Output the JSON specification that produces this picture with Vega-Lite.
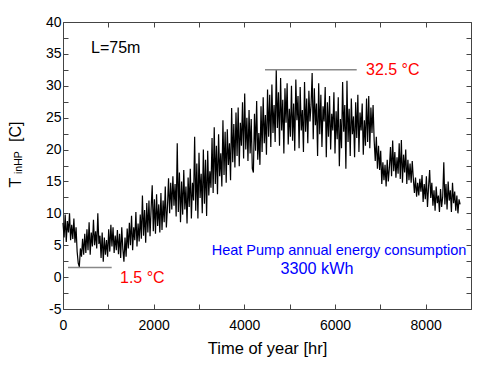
{
"$schema": "https://vega.github.io/schema/vega-lite/v6.json",
"width": 408, "height": 287,
"autosize": {"type": "none"},
"padding": {"left": 63, "top": 22, "right": 12, "bottom": 63},
"background": "white",
"config": {
  "font": "Liberation Sans",
  "view": {"stroke": "#444", "strokeWidth": 1},
  "axis": {"domain": false, "grid": false, "tickColor": "#444", "tickSize": -5, "labelFont": "Liberation Sans", "labelFontSize": 14, "labelColor": "black", "labelOverlap": false, "labelFlush": false, "titleFont": "Liberation Sans", "titleFontSize": 16.5, "titleFontWeight": "normal", "titleColor": "black"},
  "text": {"font": "Liberation Sans"}
},
"datasets": {"temp": [
{"t":0,"v":8.5},{"t":24,"v":6.2},{"t":48,"v":9.8},{"t":72,"v":5.5},{"t":96,"v":8.8},{"t":120,"v":7.0},{"t":144,"v":10.0},{"t":168,"v":5.8},{"t":192,"v":8.2},{"t":216,"v":6.0},
{"t":240,"v":9.2},{"t":264,"v":5.4},{"t":288,"v":7.8},{"t":312,"v":4.0},{"t":336,"v":2.2},{"t":360,"v":1.6},{"t":384,"v":4.5},{"t":408,"v":3.2},{"t":432,"v":6.0},{"t":456,"v":3.5},
{"t":480,"v":6.8},{"t":504,"v":3.8},{"t":528,"v":7.5},{"t":552,"v":4.2},{"t":576,"v":8.6},{"t":600,"v":3.5},{"t":624,"v":7.0},{"t":648,"v":4.8},{"t":672,"v":9.0},{"t":696,"v":5.0},
{"t":720,"v":7.2},{"t":744,"v":4.5},{"t":768,"v":10.0},{"t":792,"v":5.2},{"t":816,"v":6.5},{"t":840,"v":3.0},{"t":864,"v":7.0},{"t":888,"v":2.4},{"t":912,"v":6.2},{"t":936,"v":3.5},
{"t":960,"v":5.8},{"t":984,"v":3.2},{"t":1008,"v":7.5},{"t":1032,"v":4.0},{"t":1056,"v":8.2},{"t":1080,"v":4.8},{"t":1104,"v":7.8},{"t":1128,"v":3.8},{"t":1152,"v":6.5},{"t":1176,"v":4.2},
{"t":1200,"v":7.4},{"t":1224,"v":3.6},{"t":1248,"v":6.8},{"t":1272,"v":3.0},{"t":1296,"v":7.8},{"t":1320,"v":4.4},{"t":1344,"v":2.4},{"t":1368,"v":6.2},{"t":1392,"v":3.2},{"t":1416,"v":7.6},
{"t":1440,"v":4.5},{"t":1464,"v":8.5},{"t":1488,"v":5.0},{"t":1512,"v":9.6},{"t":1536,"v":4.2},{"t":1560,"v":7.8},{"t":1584,"v":5.8},{"t":1608,"v":10.2},{"t":1632,"v":4.8},{"t":1656,"v":8.4},
{"t":1680,"v":5.6},{"t":1704,"v":9.8},{"t":1728,"v":6.0},{"t":1752,"v":12.8},{"t":1776,"v":6.5},{"t":1800,"v":10.5},{"t":1824,"v":5.4},{"t":1848,"v":11.6},{"t":1872,"v":7.0},{"t":1896,"v":12.0},
{"t":1920,"v":6.4},{"t":1944,"v":10.8},{"t":1968,"v":14.4},{"t":1992,"v":7.2},{"t":2016,"v":12.2},{"t":2040,"v":6.8},{"t":2064,"v":13.0},{"t":2088,"v":8.0},{"t":2112,"v":11.4},{"t":2136,"v":7.0},
{"t":2160,"v":13.2},{"t":2184,"v":7.4},{"t":2208,"v":12.0},{"t":2232,"v":8.6},{"t":2256,"v":14.2},{"t":2280,"v":7.8},{"t":2304,"v":11.0},{"t":2328,"v":15.5},{"t":2352,"v":10.0},{"t":2376,"v":14.8},
{"t":2400,"v":10.6},{"t":2424,"v":15.8},{"t":2448,"v":11.2},{"t":2472,"v":14.6},{"t":2496,"v":9.5},{"t":2520,"v":21.0},{"t":2544,"v":10.2},{"t":2568,"v":16.4},{"t":2592,"v":8.6},{"t":2616,"v":15.0},
{"t":2640,"v":9.8},{"t":2664,"v":16.8},{"t":2688,"v":10.6},{"t":2712,"v":14.2},{"t":2736,"v":8.4},{"t":2760,"v":15.6},{"t":2784,"v":11.0},{"t":2808,"v":17.0},{"t":2832,"v":9.2},{"t":2856,"v":14.8},
{"t":2880,"v":12.0},{"t":2904,"v":22.0},{"t":2928,"v":10.4},{"t":2952,"v":17.8},{"t":2976,"v":9.2},{"t":3000,"v":19.5},{"t":3024,"v":12.4},{"t":3048,"v":16.2},{"t":3072,"v":10.0},{"t":3096,"v":20.0},
{"t":3120,"v":11.5},{"t":3144,"v":18.4},{"t":3168,"v":9.6},{"t":3192,"v":19.8},{"t":3216,"v":12.8},{"t":3240,"v":16.6},{"t":3264,"v":14.0},{"t":3288,"v":21.8},{"t":3312,"v":13.2},{"t":3336,"v":23.5},
{"t":3360,"v":14.6},{"t":3384,"v":20.6},{"t":3408,"v":13.0},{"t":3432,"v":22.4},{"t":3456,"v":15.8},{"t":3480,"v":19.4},{"t":3504,"v":14.2},{"t":3528,"v":24.6},{"t":3552,"v":16.0},{"t":3576,"v":22.8},
{"t":3600,"v":14.8},{"t":3624,"v":23.2},{"t":3648,"v":17.6},{"t":3672,"v":21.0},{"t":3696,"v":15.2},{"t":3720,"v":26.5},{"t":3744,"v":18.0},{"t":3768,"v":24.0},{"t":3792,"v":17.2},{"t":3816,"v":25.8},
{"t":3840,"v":19.0},{"t":3864,"v":26.6},{"t":3888,"v":17.4},{"t":3912,"v":24.2},{"t":3936,"v":20.6},{"t":3960,"v":27.4},{"t":3984,"v":18.6},{"t":4008,"v":28.8},{"t":4032,"v":20.0},{"t":4056,"v":25.0},
{"t":4080,"v":18.2},{"t":4104,"v":26.2},{"t":4128,"v":19.4},{"t":4152,"v":24.8},{"t":4176,"v":17.0},{"t":4200,"v":16.4},{"t":4224,"v":25.6},{"t":4248,"v":19.8},{"t":4272,"v":27.6},{"t":4296,"v":18.4},
{"t":4320,"v":22.6},{"t":4344,"v":17.6},{"t":4368,"v":26.8},{"t":4392,"v":19.6},{"t":4416,"v":28.2},{"t":4440,"v":21.0},{"t":4464,"v":25.4},{"t":4488,"v":19.2},{"t":4512,"v":29.4},{"t":4536,"v":22.0},
{"t":4560,"v":28.6},{"t":4584,"v":20.4},{"t":4608,"v":30.2},{"t":4632,"v":22.6},{"t":4656,"v":27.0},{"t":4680,"v":21.2},{"t":4704,"v":32.5},{"t":4728,"v":23.4},{"t":4752,"v":29.0},{"t":4776,"v":20.6},
{"t":4800,"v":31.2},{"t":4824,"v":23.0},{"t":4848,"v":27.8},{"t":4872,"v":19.4},{"t":4896,"v":29.6},{"t":4920,"v":24.2},{"t":4944,"v":30.4},{"t":4968,"v":20.8},{"t":4992,"v":26.4},{"t":5016,"v":22.0},
{"t":5040,"v":30.0},{"t":5064,"v":21.4},{"t":5088,"v":27.2},{"t":5112,"v":19.8},{"t":5136,"v":31.0},{"t":5160,"v":24.6},{"t":5184,"v":28.4},{"t":5208,"v":20.2},{"t":5232,"v":29.8},{"t":5256,"v":23.0},
{"t":5280,"v":26.2},{"t":5304,"v":19.6},{"t":5328,"v":30.6},{"t":5352,"v":22.8},{"t":5376,"v":28.0},{"t":5400,"v":21.0},{"t":5424,"v":29.2},{"t":5448,"v":24.4},{"t":5472,"v":27.0},{"t":5496,"v":32.0},
{"t":5520,"v":21.6},{"t":5544,"v":29.6},{"t":5568,"v":23.8},{"t":5592,"v":27.2},{"t":5616,"v":19.0},{"t":5640,"v":30.4},{"t":5664,"v":22.4},{"t":5688,"v":28.6},{"t":5712,"v":20.4},{"t":5736,"v":26.8},
{"t":5760,"v":24.4},{"t":5784,"v":29.8},{"t":5808,"v":18.8},{"t":5832,"v":27.4},{"t":5856,"v":22.0},{"t":5880,"v":28.4},{"t":5904,"v":20.0},{"t":5928,"v":25.6},{"t":5952,"v":23.0},{"t":5976,"v":29.0},
{"t":6000,"v":19.4},{"t":6024,"v":26.0},{"t":6048,"v":21.6},{"t":6072,"v":28.2},{"t":6096,"v":17.4},{"t":6120,"v":24.8},{"t":6144,"v":20.2},{"t":6168,"v":30.6},{"t":6192,"v":22.8},{"t":6216,"v":27.0},
{"t":6240,"v":17.0},{"t":6264,"v":30.8},{"t":6288,"v":21.2},{"t":6312,"v":26.4},{"t":6336,"v":19.0},{"t":6360,"v":28.0},{"t":6384,"v":22.4},{"t":6408,"v":25.2},{"t":6432,"v":18.8},{"t":6456,"v":27.4},
{"t":6480,"v":21.8},{"t":6504,"v":28.6},{"t":6528,"v":19.6},{"t":6552,"v":25.8},{"t":6576,"v":23.0},{"t":6600,"v":27.2},{"t":6624,"v":19.2},{"t":6648,"v":24.6},{"t":6672,"v":20.6},{"t":6696,"v":28.0},
{"t":6720,"v":21.2},{"t":6744,"v":28.4},{"t":6768,"v":20.2},{"t":6792,"v":26.6},{"t":6816,"v":22.6},{"t":6840,"v":27.0},{"t":6864,"v":21.4},{"t":6888,"v":18.2},{"t":6912,"v":22.0},{"t":6936,"v":17.0},
{"t":6960,"v":20.6},{"t":6984,"v":16.8},{"t":7008,"v":19.8},{"t":7032,"v":14.6},{"t":7056,"v":18.0},{"t":7080,"v":15.2},{"t":7104,"v":17.6},{"t":7128,"v":14.2},{"t":7152,"v":18.4},{"t":7176,"v":15.0},
{"t":7200,"v":17.2},{"t":7224,"v":20.4},{"t":7248,"v":15.8},{"t":7272,"v":21.4},{"t":7296,"v":16.6},{"t":7320,"v":19.6},{"t":7344,"v":15.6},{"t":7368,"v":18.8},{"t":7392,"v":16.2},{"t":7416,"v":21.0},
{"t":7440,"v":15.4},{"t":7464,"v":21.5},{"t":7488,"v":14.8},{"t":7512,"v":19.2},{"t":7536,"v":16.4},{"t":7560,"v":20.0},{"t":7584,"v":14.6},{"t":7608,"v":18.4},{"t":7632,"v":15.2},{"t":7656,"v":17.8},
{"t":7680,"v":14.8},{"t":7704,"v":18.2},{"t":7728,"v":15.4},{"t":7752,"v":13.2},{"t":7776,"v":15.6},{"t":7800,"v":12.6},{"t":7824,"v":14.8},{"t":7848,"v":12.8},{"t":7872,"v":15.4},{"t":7896,"v":13.4},
{"t":7920,"v":16.0},{"t":7944,"v":11.8},{"t":7968,"v":14.6},{"t":7992,"v":12.2},{"t":8016,"v":15.8},{"t":8040,"v":11.0},{"t":8064,"v":14.2},{"t":8088,"v":16.8},{"t":8112,"v":12.4},{"t":8136,"v":14.8},
{"t":8160,"v":11.2},{"t":8184,"v":13.6},{"t":8208,"v":10.4},{"t":8232,"v":14.2},{"t":8256,"v":11.6},{"t":8280,"v":12.8},{"t":8304,"v":10.2},{"t":8328,"v":13.8},{"t":8352,"v":11.0},{"t":8376,"v":12.6},
{"t":8400,"v":18.0},{"t":8424,"v":11.4},{"t":8448,"v":14.6},{"t":8472,"v":10.6},{"t":8496,"v":15.0},{"t":8520,"v":12.0},{"t":8544,"v":13.6},{"t":8568,"v":10.2},{"t":8592,"v":14.8},{"t":8616,"v":11.6},
{"t":8640,"v":13.4},{"t":8664,"v":10.4},{"t":8688,"v":12.8},{"t":8712,"v":10.0},{"t":8736,"v":12.2},{"t":8760,"v":11.4}
]},
"resolve": {"axis": {"x": "independent", "y": "independent"}},
"layer": [
  {
    "data": {"name": "temp"},
    "mark": {"type": "line", "color": "black", "strokeWidth": 1.2},
    "encoding": {
      "x": {"field": "t", "type": "quantitative", "scale": {"domain": [0, 9000], "nice": false, "zero": false},
            "axis": {"orient": "bottom", "values": [0,1000,2000,3000,4000,5000,6000,7000,8000,9000], "labelExpr": "datum.value % 2000 == 0 && datum.value < 9000 ? '' + datum.value : ''", "labelPadding": 14, "title": "Time of year [hr]", "titlePadding": 8}},
      "y": {"field": "v", "type": "quantitative", "scale": {"domain": [-5, 40], "nice": false, "zero": false},
            "axis": {"orient": "left", "values": [-5,-2.5,0,2.5,5,7.5,10,12.5,15,17.5,20,22.5,25,27.5,30,32.5,35,37.5,40], "labelExpr": "datum.value % 5 == 0 ? '' + datum.value : ''", "labelPadding": 7, "title": null}}
    }
  },
  {
    "data": {"values": [{}]},
    "mark": {"type": "rule", "color": "#888888", "strokeWidth": 1.5},
    "encoding": {
      "x": {"datum": 4456, "type": "quantitative", "scale": {"domain": [0, 9000], "nice": false, "zero": false},
            "axis": {"orient": "top", "values": [0,1000,2000,3000,4000,5000,6000,7000,8000,9000], "labels": false, "title": null}},
      "x2": {"datum": 6479},
      "y": {"datum": 32.5, "type": "quantitative", "scale": {"domain": [-5, 40], "nice": false, "zero": false},
            "axis": {"orient": "right", "values": [-5,-2.5,0,2.5,5,7.5,10,12.5,15,17.5,20,22.5,25,27.5,30,32.5,35,37.5,40], "labels": false, "title": null}}
    }
  },
  {
    "data": {"values": [{}]},
    "mark": {"type": "rule", "color": "#888888", "strokeWidth": 1.5},
    "encoding": {
      "x": {"datum": 110, "type": "quantitative", "axis": null},
      "x2": {"datum": 1074},
      "y": {"datum": 1.5, "type": "quantitative", "axis": null}
    }
  },
  {
    "data": {"values": [{}]},
    "mark": {"type": "text", "text": "L=75m", "fontSize": 16, "color": "black", "align": "left", "baseline": "alphabetic"},
    "encoding": {"x": {"datum": 618, "type": "quantitative", "axis": null}, "y": {"datum": 35.09, "type": "quantitative", "axis": null}}
  },
  {
    "data": {"values": [{}]},
    "mark": {"type": "text", "text": "32.5 °C", "fontSize": 16, "color": "#FF0000", "align": "left", "baseline": "alphabetic"},
    "encoding": {"x": {"datum": 6684, "type": "quantitative", "axis": null}, "y": {"datum": 31.69, "type": "quantitative", "axis": null}}
  },
  {
    "data": {"values": [{}]},
    "mark": {"type": "text", "text": "1.5 °C", "fontSize": 16, "color": "#FF0000", "align": "left", "baseline": "alphabetic"},
    "encoding": {"x": {"datum": 1257, "type": "quantitative", "axis": null}, "y": {"datum": -0.92, "type": "quantitative", "axis": null}}
  },
  {
    "data": {"values": [{}]},
    "mark": {"type": "text", "text": "Heat Pump annual energy consumption", "fontSize": 14.5, "color": "#0000FF", "align": "center", "baseline": "alphabetic"},
    "encoding": {"x": {"datum": 6089, "type": "quantitative", "axis": null}, "y": {"datum": 3.47, "type": "quantitative", "axis": null}}
  },
  {
    "data": {"values": [{}]},
    "mark": {"type": "text", "text": "3300 kWh", "fontSize": 16.2, "color": "#0000FF", "align": "center", "baseline": "alphabetic"},
    "encoding": {"x": {"datum": 5603, "type": "quantitative", "axis": null}, "y": {"datum": 0.49, "type": "quantitative", "axis": null}}
  },
  {
    "data": {"values": [{}]},
    "mark": {"type": "text", "text": "T", "fontSize": 16, "color": "black", "align": "left", "baseline": "alphabetic", "angle": 270},
    "encoding": {"x": {"datum": -937, "type": "quantitative", "axis": null}, "y": {"datum": 14.05, "type": "quantitative", "axis": null}}
  },
  {
    "data": {"values": [{}]},
    "mark": {"type": "text", "text": "inHP", "fontSize": 10.5, "color": "black", "align": "left", "baseline": "alphabetic", "angle": 270},
    "encoding": {"x": {"datum": -915, "type": "quantitative", "axis": null}, "y": {"datum": 16.17, "type": "quantitative", "axis": null}}
  },
  {
    "data": {"values": [{}]},
    "mark": {"type": "text", "text": "[C]", "fontSize": 16, "color": "black", "align": "left", "baseline": "alphabetic", "angle": 270},
    "encoding": {"x": {"datum": -937, "type": "quantitative", "axis": null}, "y": {"datum": 21.19, "type": "quantitative", "axis": null}}
  }
]
}
